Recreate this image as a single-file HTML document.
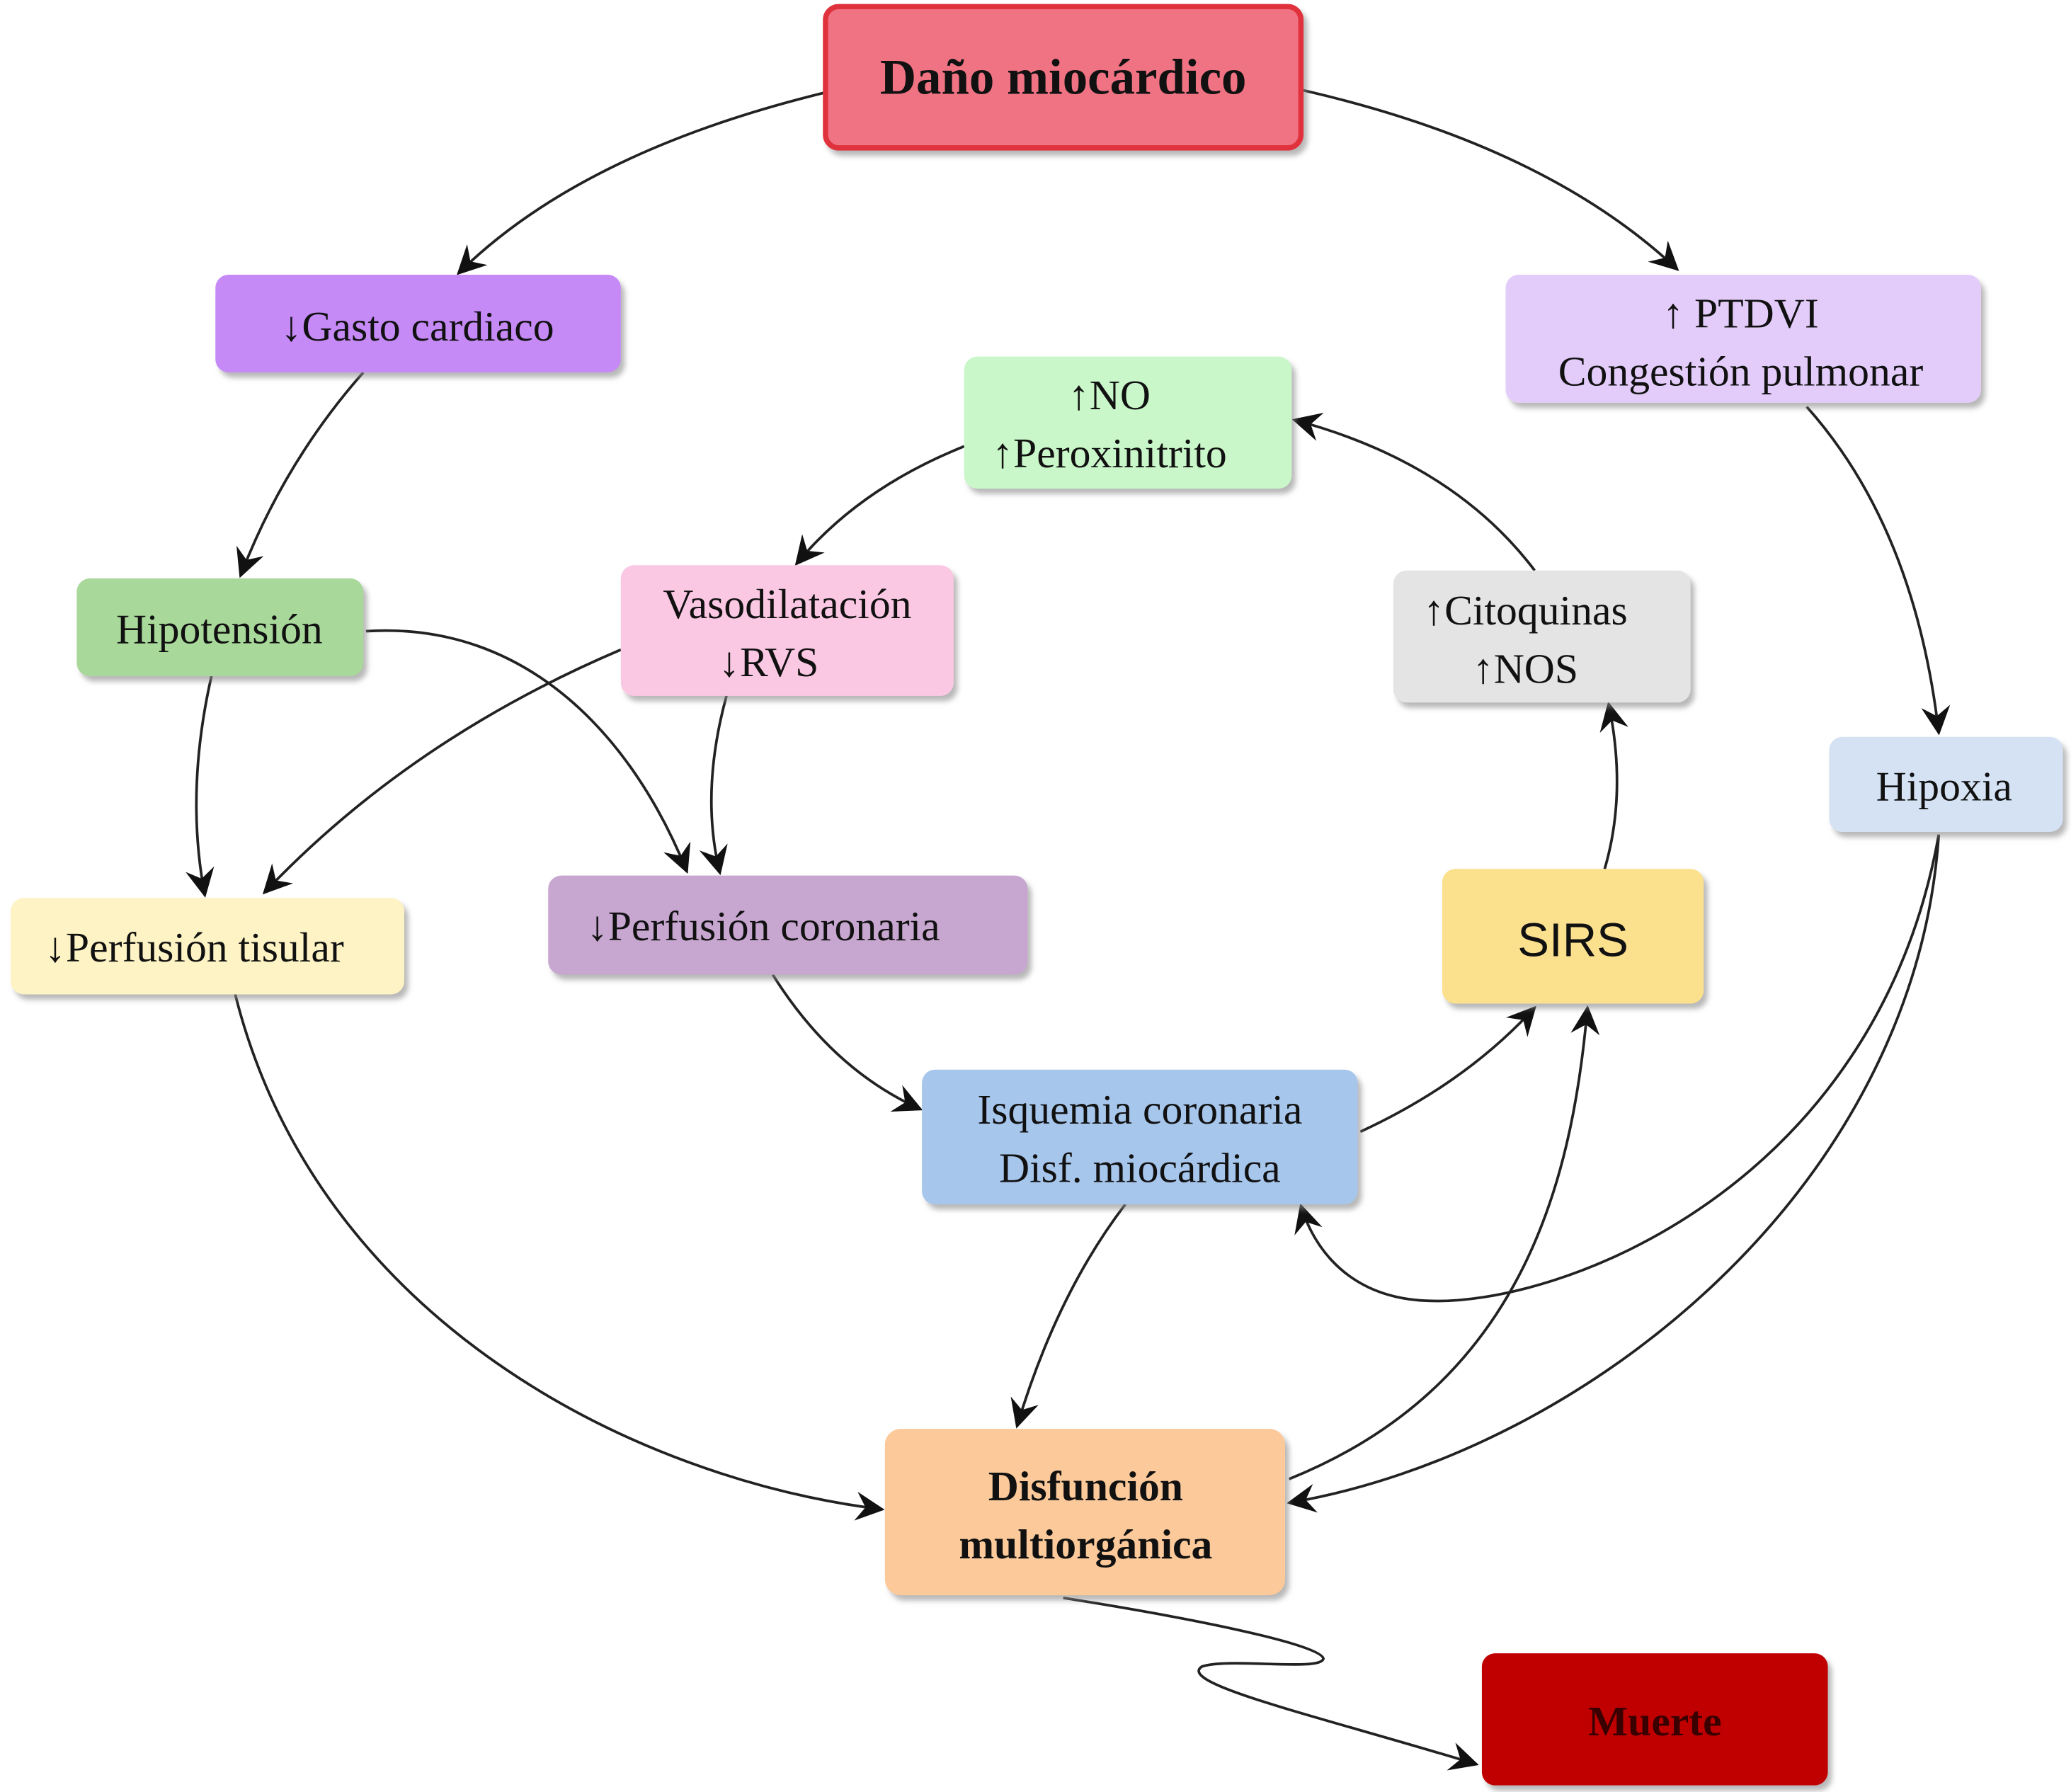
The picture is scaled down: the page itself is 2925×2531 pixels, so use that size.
<!DOCTYPE html>
<html><head><meta charset="utf-8"><style>
html,body{margin:0;padding:0;background:#fff;}
svg{display:block;}
text{font-family:"Liberation Serif",serif;font-size:32px;fill:#111;text-anchor:middle;}
.b{font-weight:bold;}
</style></head><body>
<svg width="2925" height="2531" viewBox="0 0 1568 1357" xmlns="http://www.w3.org/2000/svg">
<defs>
<marker id="a" viewBox="0 0 12 12" refX="11" refY="6" markerWidth="22" markerHeight="22" markerUnits="userSpaceOnUse" orient="auto">
<path d="M0,0 L12,6 L0,12 L4,6 Z" fill="#111"/>
</marker>
<filter id="s" x="-10%" y="-10%" width="130%" height="140%"><feDropShadow dx="3" dy="4" stdDeviation="2" flood-color="#888" flood-opacity="0.6"/></filter>
</defs>
<g fill="none" stroke="#222" stroke-width="2" marker-end="url(#a)">
<path d="M625,70 Q440,115 347,207"/>
<path d="M985,68 Q1170,110 1270,204"/>
<path d="M275,282 Q215,350 182,436"/>
<path d="M1368,308 Q1450,400 1468,555"/>
<path d="M730,338 Q650,370 603,427"/>
<path d="M1162,432 Q1100,350 980,318"/>
<path d="M1215,658 Q1232,600 1218,533"/>
<path d="M160,512 Q140,600 155,678"/>
<path d="M277,478 C400,470 480,560 520,660"/>
<path d="M470,492 Q310,560 200,676"/>
<path d="M550,527 Q530,600 545,661"/>
<path d="M585,738 Q630,810 697,840"/>
<path d="M1030,857 Q1110,820 1162,763"/>
<path d="M1468,632 C1420,900 1180,990 1080,985 C1010,982 990,930 985,913"/>
<path d="M1468,632 C1450,900 1200,1100 976,1138"/>
<path d="M976,1120 C1150,1050 1190,900 1202,763"/>
<path d="M852,912 Q800,980 770,1080"/>
<path d="M178,753 C240,1000 480,1120 668,1143"/>
<path d="M805,1210 C900,1225 1000,1245 1002,1256 C1000,1266 930,1255 910,1262 C890,1275 1000,1300 1118,1336"/>
</g>
<g filter="url(#s)">
<rect x="625" y="5" width="360" height="107" rx="10" fill="#f07383" stroke="#e0303c" stroke-width="4"/>
<rect x="163" y="208" width="307" height="74" rx="10" fill="#c68af7"/>
<rect x="1140" y="208" width="360" height="97" rx="10" fill="#e3ccfa"/>
<rect x="730" y="270" width="248" height="100" rx="10" fill="#c9f7c9"/>
<rect x="58" y="438" width="217" height="74" rx="10" fill="#a8d89a"/>
<rect x="470" y="428" width="252" height="99" rx="10" fill="#fbc8e4"/>
<rect x="1055" y="432" width="225" height="100" rx="10" fill="#e4e4e4"/>
<rect x="1385" y="558" width="177" height="72" rx="10" fill="#d5e2f4"/>
<rect x="8" y="680" width="298" height="73" rx="10" fill="#fdf3c4"/>
<rect x="415" y="663" width="363" height="75" rx="10" fill="#c7a6d0"/>
<rect x="1092" y="658" width="198" height="102" rx="10" fill="#fbe08e"/>
<rect x="698" y="810" width="330" height="102" rx="10" fill="#a7c6ec"/>
<rect x="670" y="1082" width="303" height="126" rx="12" fill="#fbc99a"/>
<rect x="1122" y="1252" width="262" height="100" rx="10" fill="#c00000"/>
</g>
<text x="805" y="71" class="b" style="font-size:38px">Daño miocárdico</text>
<text x="316" y="258">↓Gasto cardiaco</text>
<text x="1318" y="248">↑ PTDVI</text>
<text x="1318" y="292">Congestión pulmonar</text>
<text x="840" y="310">↑NO</text>
<text x="840" y="354">↑Peroxinitrito</text>
<text x="166" y="487">Hipotensión</text>
<text x="596" y="468">Vasodilatación</text>
<text x="582" y="512">↓RVS</text>
<text x="1155" y="473">↑Citoquinas</text>
<text x="1155" y="517">↑NOS</text>
<text x="1472" y="606">Hipoxia</text>
<text x="147" y="728">↓Perfusión tisular</text>
<text x="578" y="712">↓Perfusión coronaria</text>
<text x="1191" y="724" style="font-family:'Liberation Sans',sans-serif;font-size:36px">SIRS</text>
<text x="863" y="851">Isquemia coronaria</text>
<text x="863" y="895">Disf. miocárdica</text>
<text x="822" y="1136" class="b">Disfunción</text>
<text x="822" y="1180" class="b">multiorgánica</text>
<text x="1253" y="1314" class="b" style="fill:#3a0000">Muerte</text>
</svg>
</body></html>
